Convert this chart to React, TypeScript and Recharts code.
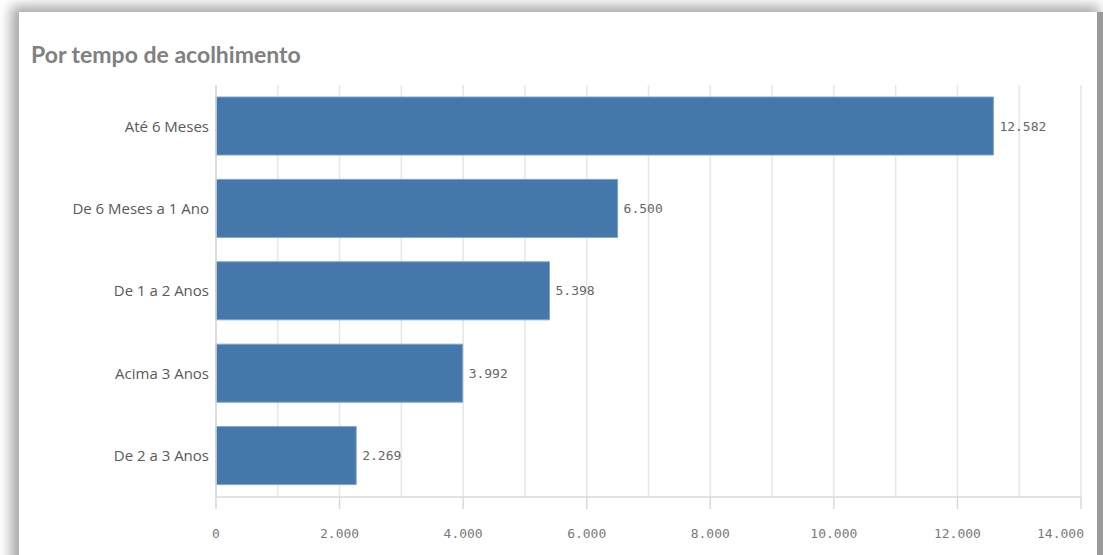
import React from "react";
import {
  BarChart,
  Bar,
  XAxis,
  YAxis,
  CartesianGrid,
  LabelList,
} from "recharts";

// Categories and values
const categories = [
  "Até 6 Meses",
  "De 6 Meses a 1 Ano",
  "De 1 a 2 Anos",
  "Acima 3 Anos",
  "De 2 a 3 Anos",
];
const values = [12582, 6500, 5398, 3992, 2269];
const xTicks = [0, 2000, 4000, 6000, 8000, 10000, 12000, 14000];
const gridValues = [
  0, 1000, 2000, 3000, 4000, 5000, 6000, 7000, 8000, 9000, 10000, 11000, 12000,
  13000, 14000,
];

const data = categories.map((name, i) => ({ name, value: values[i] }));

// 12582 -> "12.582"
function fmtNum(v: number): string {
  return String(Math.round(v)).replace(/\B(?=(\d{3})+(?!\d))/g, ".");
}

const MONO = "'DejaVu Sans Mono', monospace";

// last label is pulled inside the plot, like the original
function XTick(props: any) {
  const { x, y, payload } = props;
  const last = payload.value === xTicks[xTicks.length - 1];
  return (
    <text
      x={last ? x + 3 : x}
      y={y}
      dy="0.71em"
      textAnchor={last ? "end" : "middle"}
      fontFamily={MONO}
      fontSize={13}
      fill="#7a7a7a"
    >
      {fmtNum(payload.value)}
    </text>
  );
}

export default function App() {
  return (
    <div
      style={{
        position: "absolute",
        left: 0,
        top: 0,
        width: 1103,
        height: 555,
        background: "#fff",
        overflow: "hidden",
      }}
    >
      {/* card with the grey frame/shadow around it */}
      <div
        style={{
          position: "absolute",
          left: 19,
          top: 12,
          width: 1078,
          height: 560,
          background: "#fff",
          boxShadow: "-6px -4px 12px 2px rgba(0,0,0,0.35)",
          borderRight: "6px solid #9a9a9a",
        }}
      />
      <div
        style={{
          position: "absolute",
          left: 31,
          top: 40,
          fontFamily: "Lato, sans-serif",
          fontWeight: 700,
          fontSize: 23,
          color: "#808080",
          lineHeight: "28px",
        }}
      >
        Por tempo de acolhimento
      </div>
      <div style={{ position: "absolute", left: 0, top: 0 }}>
        <BarChart
          width={1103}
          height={555}
          data={data}
          layout="vertical"
          margin={{ top: 85, right: 22, bottom: 26, left: 0 }}
          barSize={58}
        >
          <CartesianGrid
            horizontal={false}
            verticalValues={gridValues}
            stroke="#e6e6e6"
            strokeWidth={1.5}
          />
          <XAxis
            type="number"
            domain={[0, 14000]}
            ticks={xTicks}
            axisLine={{ stroke: "#d9d9d9", strokeWidth: 1.5 }}
            tickLine={{ stroke: "#d9d9d9", strokeWidth: 1.5 }}
            tickSize={12}
            tickMargin={20}
            height={32}
            tick={<XTick />}
            interval={0}
          />
          <YAxis
            type="category"
            dataKey="name"
            width={216}
            axisLine={{ stroke: "#d9d9d9", strokeWidth: 1.5 }}
            tickLine={false}
            tickMargin={1}
            tick={{ fontFamily: "'Open Sans', sans-serif", fontSize: 15, fill: "#595959" }}
            interval={0}
          />
          <Bar
            dataKey="value"
            fill="#4477aa"
            stroke="#7fa3c8"
            strokeWidth={1}
            isAnimationActive={false}
          >
            <LabelList
              dataKey="value"
              position="right"
              offset={6}
              formatter={(v: any) => fmtNum(Number(v))}
              style={{ fontFamily: MONO, fontSize: 13, fill: "#666" }}
            />
          </Bar>
        </BarChart>
      </div>
    </div>
  );
}
